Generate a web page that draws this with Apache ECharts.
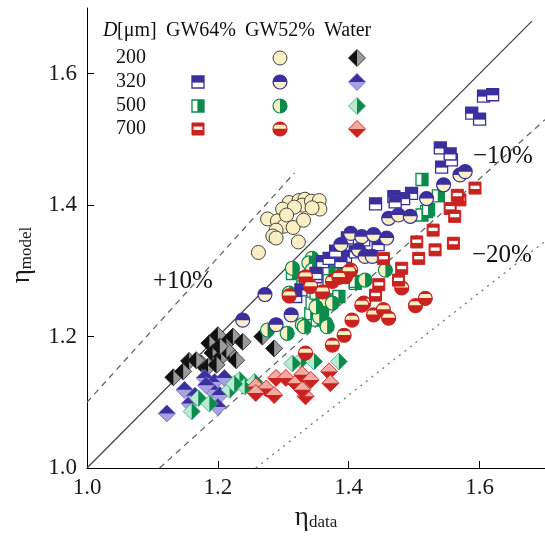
<!DOCTYPE html>
<html><head><meta charset="utf-8">
<script src="https://cdn.jsdelivr.net/npm/echarts@6/dist/echarts.min.js"></script>
<style>html,body{margin:0;padding:0;background:#fff}#c{width:545px;height:538px}</style>
</head><body><div id="c"></div>
<script>
// ---- data ----
const xTicks = [1.0, 1.2, 1.4, 1.6];
const yTicks = [1.0, 1.2, 1.4, 1.6];
const lineEqual = [[1.0, 1.0], [1.68, 1.68]];
const linePlus10 = [[1.0, 1.1], [1.317, 1.449]];
const lineMinus10 = [[1.111, 1.0], [1.7, 1.53]];
const lineMinus20 = [[1.258, 1.0], [1.7, 1.345]];
const fluids = ['GW64%', 'GW52%', 'Water'];
const diameters = ['200', '320', '500', '700'];

const gw52_200 = [[1.309,1.404],[1.299,1.394],[1.324,1.407],[1.333,1.409],[1.329,1.400],[1.343,1.406],[1.355,1.407],[1.356,1.394],[1.276,1.379],[1.291,1.376],[1.301,1.368],[1.315,1.366],[1.331,1.377],[1.289,1.362],[1.284,1.353],[1.289,1.350],[1.323,1.344],[1.262,1.328],[1.317,1.397],[1.344,1.396],[1.305,1.385]];
const water_200 = [[1.132,1.138],[1.147,1.147],[1.156,1.163],[1.175,1.159],[1.187,1.190],[1.200,1.202],[1.213,1.190],[1.223,1.200],[1.238,1.192],[1.192,1.175],[1.205,1.169],[1.218,1.175],[1.228,1.164],[1.185,1.154],[1.198,1.157],[1.268,1.200],[1.286,1.182],[1.213,1.180],[1.167,1.164],[1.203,1.185]];
const gw64_320 = [[1.606,1.566],[1.620,1.568],[1.588,1.540],[1.600,1.531],[1.540,1.487],[1.542,1.458],[1.557,1.469],[1.555,1.478],[1.496,1.418],[1.469,1.413],[1.484,1.410],[1.441,1.402],[1.471,1.405],[1.398,1.350],[1.423,1.347],[1.395,1.322],[1.433,1.322],[1.334,1.289],[1.350,1.291],[1.327,1.271],[1.360,1.314],[1.370,1.319],[1.388,1.314],[1.410,1.329],[1.350,1.296],[1.319,1.261],[1.445,1.340],[1.380,1.330]];
const gw52_320 = [[1.238,1.225],[1.289,1.218],[1.312,1.233],[1.272,1.264],[1.461,1.380],[1.476,1.385],[1.494,1.383],[1.519,1.410],[1.545,1.431],[1.570,1.446],[1.578,1.451],[1.403,1.357],[1.420,1.352],[1.438,1.355],[1.458,1.350],[1.415,1.332],[1.425,1.322],[1.436,1.322],[1.388,1.340]];
const water_320 = [[1.122,1.083],[1.149,1.119],[1.180,1.137],[1.195,1.131],[1.210,1.137],[1.190,1.119],[1.203,1.111],[1.157,1.098],[1.200,1.093],[1.182,1.126],[1.165,1.110]];
const gw64_500 = [[1.512,1.439],[1.537,1.414],[1.519,1.390],[1.512,1.385],[1.522,1.393],[1.382,1.306],[1.370,1.301],[1.410,1.281],[1.314,1.296],[1.350,1.251],[1.342,1.235],[1.360,1.241],[1.352,1.225],[1.344,1.251],[1.350,1.266],[1.375,1.256],[1.385,1.261],[1.370,1.285],[1.410,1.284],[1.330,1.280]];
const gw52_500 = [[1.344,1.319],[1.339,1.312],[1.314,1.304],[1.309,1.266],[1.329,1.276],[1.365,1.256],[1.375,1.251],[1.365,1.220],[1.329,1.218],[1.306,1.205],[1.276,1.210],[1.344,1.301],[1.332,1.215],[1.355,1.230],[1.367,1.215],[1.350,1.245],[1.425,1.286],[1.456,1.301]];
const water_500 = [[1.170,1.106],[1.187,1.098],[1.160,1.086],[1.218,1.119],[1.233,1.134],[1.241,1.124],[1.256,1.131],[1.327,1.164],[1.347,1.162],[1.385,1.162],[1.314,1.159],[1.225,1.128]];
const gw64_700 = [[1.593,1.426],[1.570,1.408],[1.555,1.395],[1.562,1.383],[1.529,1.362],[1.504,1.344],[1.507,1.319],[1.532,1.332],[1.560,1.342],[1.481,1.304],[1.476,1.286],[1.453,1.319],[1.446,1.279],[1.441,1.263],[1.566,1.415]];
const gw52_700 = [[1.334,1.291],[1.342,1.276],[1.360,1.268],[1.375,1.284],[1.395,1.291],[1.403,1.301],[1.423,1.251],[1.438,1.233],[1.453,1.241],[1.461,1.228],[1.405,1.225],[1.502,1.247],[1.517,1.258],[1.481,1.274],[1.375,1.187],[1.393,1.202],[1.309,1.262],[1.400,1.299],[1.334,1.175],[1.420,1.248],[1.385,1.290]];
const water_700 = [[1.258,1.124],[1.274,1.121],[1.289,1.137],[1.304,1.137],[1.319,1.129],[1.329,1.142],[1.342,1.134],[1.370,1.147],[1.372,1.129],[1.334,1.109],[1.286,1.111],[1.258,1.114],[1.329,1.119]];

// ---- styling ----
const C = {blue:'#3b2f9e', blueL:'#a9a2e2', green:'#0b8b4c', greenL:'#b8ebd2', red:'#c9221f', redL:'#f3aaa3', cream:'#f8f0c2', black:'#111', grey:'#9a9a9a'};
const SERIF = '"Liberation Serif", "Times New Roman", serif';
const R = 7, S = 12, DH = 8.5;

function hBand(cx, cy, r, a, b) {
  const pts = [], n = 12;
  for (let i = 0; i <= n; i++) { const dy = (a + (b - a) * i / n) * r; pts.push([cx + Math.sqrt(Math.max(0, r*r - dy*dy)), cy + dy]); }
  for (let i = n; i >= 0; i--) { const dy = (a + (b - a) * i / n) * r; pts.push([cx - Math.sqrt(Math.max(0, r*r - dy*dy)), cy + dy]); }
  return pts;
}
function vBand(cx, cy, r, a, b) {
  const pts = [], n = 12;
  for (let i = 0; i <= n; i++) { const dx = (a + (b - a) * i / n) * r; pts.push([cx + dx, cy - Math.sqrt(Math.max(0, r*r - dx*dx))]); }
  for (let i = n; i >= 0; i--) { const dx = (a + (b - a) * i / n) * r; pts.push([cx + dx, cy + Math.sqrt(Math.max(0, r*r - dx*dx))]); }
  return pts;
}
function circ(x, y, fill, stroke, lw) { return {type:'circle', shape:{cx:x, cy:y, r:R}, style:{fill:fill, stroke:stroke || null, lineWidth:lw || 0}}; }
function poly(pts, fill, stroke, lw) { return {type:'polygon', shape:{points:pts}, style:{fill:fill, stroke:stroke || null, lineWidth:lw || 0}}; }
function rect(x, y, w, h, fill, stroke, lw) { return {type:'rect', shape:{x:x, y:y, width:w, height:h}, style:{fill:fill, stroke:stroke || null, lineWidth:lw || 0}}; }
function dia(x, y) { return [[x, y - DH], [x + DH, y], [x, y + DH], [x - DH, y]]; }

function marker(kind, x, y) {
  const h = S / 2;
  switch (kind) {
    case 'gw52_200': return [circ(x, y, C.cream, '#444', 1)];
    case 'gw52_320': return [circ(x, y, C.cream), poly(hBand(x, y, R, -1, 0), C.blue), circ(x, y, 'none', C.blue, 1.2)];
    case 'gw52_500': return [circ(x, y, C.cream), poly(vBand(x, y, R, 0, 1), C.green), circ(x, y, 'none', C.green, 1.2)];
    case 'gw52_700': return [circ(x, y, C.red), poly(hBand(x, y, R, -0.62, -0.05), C.cream), circ(x, y, 'none', C.red, 1.2)];
    case 'gw64_320': return [rect(x - h, y - h, S, S, '#fff', C.blue, 1.3), rect(x - h, y - h, S, S * 0.55, C.blue)];
    case 'gw64_500': return [rect(x - h, y - h, S, S, '#fff', C.green, 1.3), rect(x - h + S * 0.45, y - h, S * 0.55, S, C.green)];
    case 'gw64_700': return [rect(x - h, y - h, S, S, C.red, C.red, 1), rect(x - h + 1.5, y - h + S * 0.3, S - 3, S * 0.28, '#fff')];
    case 'water_200': return [poly(dia(x, y), C.grey), poly([[x, y - DH], [x - DH, y], [x, y + DH]], C.black), poly(dia(x, y), 'none', '#222', 0.8)];
    case 'water_320': return [poly(dia(x, y), C.blueL), poly([[x - DH, y], [x, y - DH], [x + DH, y]], C.blue), poly(dia(x, y), 'none', '#6c63c9', 0.8)];
    case 'water_500': return [poly(dia(x, y), C.greenL), poly([[x, y - DH], [x + DH, y], [x, y + DH]], C.green), poly(dia(x, y), 'none', '#3aa872', 0.8)];
    case 'water_700': return [poly(dia(x, y), C.red), poly([[x - DH, y], [x, y - DH], [x + DH, y]], C.redL), poly(dia(x, y), 'none', C.red, 0.8)];
  }
  return [];
}

function scatter(name, data) {
  return {
    type: 'custom', name: name, data: data, z: 3, silent: true,
    encode: {x: 0, y: 1},
    renderItem: function (params, api) {
      const p = api.coord([api.value(0), api.value(1)]);
      return {type: 'group', children: marker(name, p[0], p[1])};
    }
  };
}
function refLine(data, type, color) {
  return {type: 'line', data: data, symbol: 'none', silent: true, z: 1,
    lineStyle: {color: color, width: 1.3, type: type}};
}

// legend graphics
const legendRowsY = [58, 82, 106, 129];
const legendColX = [198, 280, 357];
const legendTop = 31;
const g = [];
function txt(t, x, y, size, italic, align) {
  return {type: 'text', x: x, y: y, style: {text: t, fill: '#111',
    font: (italic ? 'italic ' : '') + size + 'px ' + SERIF,
    textAlign: align || 'left', textVerticalAlign: 'middle', align: align || 'left', verticalAlign: 'middle'}};
}
g.push(txt('D', 103, legendTop, 20, true));
g.push(txt('[μm]', 117, legendTop, 20));
g.push(txt(fluids[0], 166, legendTop, 20));
g.push(txt(fluids[1], 245, legendTop, 20));
g.push(txt(fluids[2], 324, legendTop, 20));
diameters.forEach(function (d, i) { g.push(txt(d, 116, legendRowsY[i], 20)); });
const legendKinds = [[null, 'gw52_200', 'water_200'], ['gw64_320', 'gw52_320', 'water_320'], ['gw64_500', 'gw52_500', 'water_500'], ['gw64_700', 'gw52_700', 'water_700']];
legendKinds.forEach(function (row, i) {
  row.forEach(function (k, j) { if (k) g.push({type: 'group', children: marker(k, legendColX[j], legendRowsY[i])}); });
});
g.push(txt('+10%', 153, 281, 25));
g.push(txt('\u221210%', 473, 156, 25));
g.push(txt('\u221220%', 472, 255, 25));

const axisCommon = {
  type: 'value', min: 1.0, max: 1.7,
  axisLine: {show: true, onZero: false, lineStyle: {color: '#000', width: 1}},
  axisTick: {show: true, inside: true, length: 7, lineStyle: {color: '#000'}},
  splitLine: {show: false},
  nameLocation: 'middle'
};
const chart = echarts.init(document.getElementById('c'), null, {renderer: 'canvas'});
chart.setOption({
  backgroundColor: '#fff',
  animation: false,
  grid: {left: 87, right: -2, top: 8, bottom: 70, containLabel: false},
  xAxis: Object.assign({}, axisCommon, {
    axisTick: Object.assign({}, axisCommon.axisTick, {customValues: xTicks}),
    axisLabel: {customValues: xTicks, formatter: function (v) { return v.toFixed(1); }, fontFamily: SERIF, fontSize: 23, color: '#1a1a1a', margin: 8},
    name: '{e|η}{s|data}', nameGap: 36,
    nameTextStyle: {rich: {e: {fontFamily: SERIF, fontSize: 27, color: '#1a1a1a'}, s: {fontFamily: SERIF, fontSize: 17, color: '#1a1a1a', padding: [10, 0, 0, 0]}}}
  }),
  yAxis: Object.assign({}, axisCommon, {
    axisTick: Object.assign({}, axisCommon.axisTick, {customValues: yTicks}),
    axisLabel: {customValues: yTicks, formatter: function (v) { return v.toFixed(1); }, fontFamily: SERIF, fontSize: 23, color: '#1a1a1a', margin: 10},
    name: '{e|η}{s|model}', nameGap: 52,
    nameTextStyle: {padding: [0, 34, 0, 0], rich: {e: {fontFamily: SERIF, fontSize: 27, color: '#1a1a1a'}, s: {fontFamily: SERIF, fontSize: 17, color: '#1a1a1a', padding: [10, 0, 0, 0]}}}
  }),
  graphic: {elements: g},
  series: [
    refLine(lineEqual, 'solid', '#444'),
    refLine(linePlus10, [6, 5], '#666'),
    refLine(lineMinus10, [6, 5], '#666'),
    refLine(lineMinus20, [2, 5], '#777'),
    scatter('water_200', water_200),
    scatter('gw52_200', gw52_200),
    scatter('water_320', water_320),
    scatter('water_500', water_500),
    scatter('water_700', water_700),
    scatter('gw64_500', gw64_500),
    scatter('gw52_500', gw52_500),
    scatter('gw64_320', gw64_320),
    scatter('gw52_320', gw52_320),
    scatter('gw52_700', gw52_700),
    scatter('gw64_700', gw64_700)
  ]
});
</script></body></html>
